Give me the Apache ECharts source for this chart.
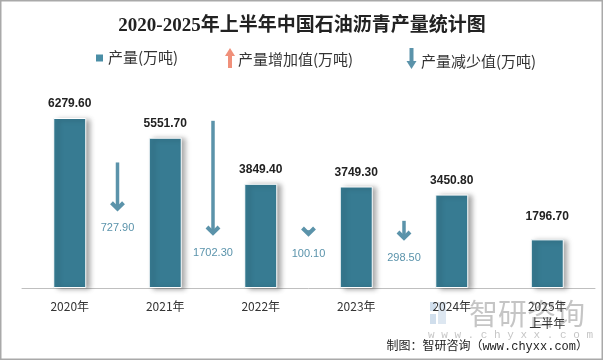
<!DOCTYPE html>
<html><head><meta charset="utf-8">
<script src="https://cdn.jsdelivr.net/npm/echarts@6/dist/echarts.min.js"></script>
<style>html,body{margin:0;padding:0;background:#fff}#c{width:604px;height:361px}</style>
</head><body><div id="c"></div>
<script>
// ---- data ----
const categories = ['2020年', '2021年', '2022年', '2023年', '2024年', '2025年\n上半年'];
const production = [6279.60, 5551.70, 3849.40, 3749.30, 3450.80, 1796.70];
const decreaseValues = [727.90, 1702.30, 100.10, 298.50];
// arrow tip level (arrow axis units)
const arrowTipLevels = [1127, 768, 754, 694];
const titleText = '2020-2025年上半年中国石油沥青产量统计图';
const legendNames = ['产量(万吨)', '产量增加值(万吨)', '产量减少值(万吨)'];

const yMax = 7000;
const arrowAxisMax = 2800;

const chart = echarts.init(document.getElementById('c'), null, {renderer: 'canvas'});
const barData = production.map((v, i) => i === production.length - 1 ? {value: v, label: {distance: 17}} : v);
const arrowData = decreaseValues.map((d, i) => [i, arrowTipLevels[i], arrowTipLevels[i] + d, d]);

const arrowColor = '#5b93aa';
const cjk = '"Noto Sans CJK SC", sans-serif';

const option = {
  animation: false,
  backgroundColor: '#fff',
  title: {
    text: titleText, left: 'center', top: 12,
    textStyle: {fontSize: 19, fontWeight: 'bold', color: '#222', fontFamily: '"Liberation Serif", "Noto Sans CJK SC", serif'}
  },
  grid: {left: 22, right: 9, top: 98.5, bottom: 73},
  xAxis: {
    type: 'category', data: categories,
    axisLine: {lineStyle: {color: '#bfbfbf', width: 1}},
    axisTick: {length: 4, lineStyle: {color: '#bfbfbf'}},
    axisLabel: {interval: 0, margin: 10, fontSize: 12, lineHeight: 17, color: '#333', fontFamily: cjk}
  },
  yAxis: [
    {type: 'value', min: 0, max: yMax, show: false, splitLine: {show: false}},
    {type: 'value', min: 0, max: arrowAxisMax, show: false, splitLine: {show: false}}
  ],
  series: [
    {
      type: 'bar', data: barData, barWidth: 33,
      itemStyle: {color: '#377b92', borderColor: '#fff', borderWidth: 1,
        shadowColor: 'rgba(0,0,0,0.35)', shadowBlur: 5, shadowOffsetX: 4, shadowOffsetY: 1},
      label: {show: true, position: 'top', distance: 8, formatter: p => p.value.toFixed(2),
        fontSize: 12, fontWeight: 'bold', color: '#222', fontFamily: '"Liberation Sans", Arial, sans-serif'}
    },
    {
      type: 'custom', yAxisIndex: 1, data: arrowData,
      renderItem: (params, api) => {
        const i = api.value(0);
        const tipPt = api.coord([i, api.value(1)]);
        const topPt = api.coord([i, api.value(2)]);
        const half = api.size([1, 0])[0] / 2;
        const x = tipPt[0] + half;
        const tip = tipPt[1], top = topPt[1];
        return {
          type: 'group', children: [
            {type: 'line', shape: {x1: x, y1: top, x2: x, y2: tip - 4}, style: {stroke: arrowColor, lineWidth: 3.5}},
            {type: 'polyline', shape: {points: [[x - 6, tip - 9], [x, tip - 3], [x + 6, tip - 9]]},
              style: {stroke: arrowColor, lineWidth: 4, fill: 'none', lineJoin: 'miter'}},
            {type: 'text', x: x, y: tip + 16.5,
              style: {text: api.value(3).toFixed(2), fill: '#5a93ab', fontSize: 11,
                fontFamily: '"Liberation Sans", Arial, sans-serif', align: 'center', verticalAlign: 'middle'}}
          ]
        };
      }
    }
  ],
  graphic: [
    {type: 'rect', shape: {x: 0.75, y: 0.75, width: 601.5, height: 358.5}, style: {fill: 'none', stroke: '#a9a9a9', lineWidth: 1.5}, silent: true},
    // legend
    {type: 'rect', shape: {x: 96, y: 54.5, width: 7, height: 7}, style: {fill: '#4a8ea6'}},
    {type: 'text', x: 108, y: 57.5, style: {text: legendNames[0], fill: '#333', fontSize: 15, fontFamily: cjk, verticalAlign: 'middle'}},
    {type: 'rect', shape: {x: 228, y: 55, width: 4, height: 13}, style: {fill: '#f0907a'}},
    {type: 'polygon', shape: {points: [[225, 56], [230, 48], [235, 56]]}, style: {fill: '#f0907a'}},
    {type: 'text', x: 238, y: 59.5, style: {text: legendNames[1], fill: '#333', fontSize: 15, fontFamily: cjk, verticalAlign: 'middle'}},
    {type: 'rect', shape: {x: 409.5, y: 48, width: 4, height: 14}, style: {fill: arrowColor}},
    {type: 'polygon', shape: {points: [[406.5, 61], [411.5, 69], [416.5, 61]]}, style: {fill: arrowColor}},
    {type: 'text', x: 421, y: 61.5, style: {text: legendNames[2], fill: '#333', fontSize: 15, fontFamily: cjk, verticalAlign: 'middle'}},
    // watermark
    {type: 'rect', shape: {x: 430, y: 302, width: 6, height: 9}, style: {fill: 'rgba(120,160,200,0.35)'}},
    {type: 'rect', shape: {x: 438, y: 302, width: 8, height: 22}, style: {fill: 'rgba(120,160,200,0.25)'}},
    {type: 'rect', shape: {x: 430, y: 314, width: 6, height: 10}, style: {fill: 'rgba(120,160,200,0.35)'}},
    {type: 'text', x: 469, y: 314, style: {text: '智研咨询', fill: 'rgba(150,150,150,0.55)', fontSize: 29, fontFamily: cjk, verticalAlign: 'middle'}},
    {type: 'text', x: 428, y: 335, style: {text: 'w w w . c h y x x . c o m', fill: 'rgba(150,150,150,0.55)', fontSize: 11, fontFamily: '"Liberation Mono", monospace', verticalAlign: 'middle'}},
    // footer
    {type: 'text', x: 588, y: 347, style: {text: '制图：智研咨询（www.chyxx.com）', fill: '#222', fontSize: 12, fontFamily: '"Liberation Mono", "Noto Sans CJK SC", monospace', align: 'right', verticalAlign: 'middle'}}
  ]
};
chart.setOption(option);
</script>
</body></html>
